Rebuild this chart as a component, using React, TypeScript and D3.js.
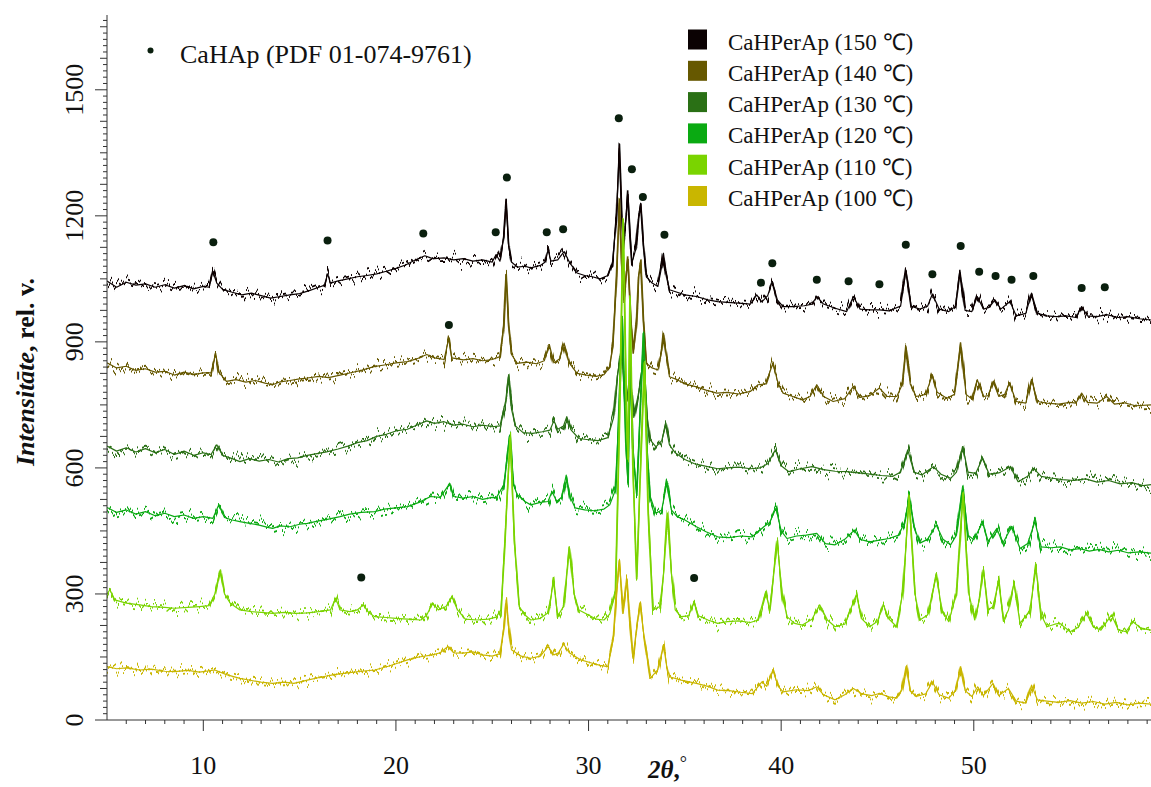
import React from "react";
import * as d3 from "d3";

const W = 1151;
const H = 787;

// 2θ (deg), intensity (rel. units)
const s150: number[][] = [[5.0,1045],[5.5,1030],[6.0,1042],[6.5,1035],[7.0,1038],[7.5,1030],[8.0,1036],[8.5,1028],[9.0,1034],[9.5,1026],[10.0,1032],[10.3,1030],[10.5,1067],[10.7,1040],[11.0,1025],[11.5,1018],[12.0,1012],[12.5,1016],[13.0,1010],[13.5,1004],[14.0,1008],[14.5,1012],[15.0,1015],[15.5,1022],[16.0,1030],[16.3,1035],[16.45,1062],[16.6,1040],[17.0,1045],[17.5,1050],[18.0,1055],[18.5,1058],[19.0,1062],[19.5,1068],[20.0,1075],[20.5,1083],[21.0,1095],[21.5,1105],[21.8,1100],[22.0,1098],[22.5,1100],[23.0,1095],[23.5,1098],[24.0,1092],[24.5,1095],[25.0,1090],[25.2,1108],[25.4,1092],[25.6,1150],[25.72,1232],[25.85,1130],[26.0,1090],[26.3,1078],[26.7,1080],[27.0,1076],[27.5,1082],[27.75,1090],[27.9,1119],[28.05,1092],[28.4,1095],[28.73,1115],[29.0,1090],[29.4,1064],[29.8,1058],[30.2,1055],[30.6,1050],[31.0,1058],[31.25,1090],[31.45,1200],[31.6,1361],[31.72,1200],[31.8,1127],[31.95,1200],[32.04,1260],[32.15,1160],[32.25,1088],[32.45,1120],[32.6,1200],[32.71,1230],[32.85,1130],[33.0,1055],[33.3,1040],[33.6,1032],[33.8,1080],[33.89,1111],[34.0,1070],[34.2,1024],[34.6,1018],[35.0,1012],[35.6,1008],[36.2,1000],[36.7,996],[37.2,994],[37.8,992],[38.4,990],[38.73,1012],[39.0,995],[39.3,1010],[39.54,1044],[39.8,1000],[40.1,984],[40.6,984],[41.2,986],[41.6,990],[41.85,1008],[42.2,990],[42.8,980],[43.4,972],[43.75,1008],[44.1,978],[44.6,976],[45.1,976],[45.6,974],[46.2,985],[46.48,1071],[46.75,985],[47.2,978],[47.6,985],[47.85,1014],[48.2,978],[48.7,972],[49.05,985],[49.28,1071],[49.55,975],[49.9,972],[50.18,1008],[50.5,978],[50.8,982],[51.1,1000],[51.4,978],[51.88,996],[52.2,962],[52.7,968],[53.0,1016],[53.3,968],[53.8,962],[54.3,960],[54.8,962],[55.3,958],[55.6,984],[55.9,962],[56.4,960],[56.9,965],[57.5,958],[58.0,960],[58.6,955],[59.2,952]];

const s140: number[][] = [[5.0,850],[5.5,838],[6.0,842],[6.5,832],[7.0,836],[7.5,828],[8.0,830],[8.5,821],[9.0,828],[9.5,822],[10.0,826],[10.4,826],[10.64,873],[10.8,828],[11.2,806],[11.7,810],[12.2,804],[12.7,808],[13.2,802],[13.6,798],[14.0,805],[14.5,808],[15.0,812],[15.4,814],[16.0,818],[16.5,815],[17.1,821],[17.6,826],[18.2,832],[18.86,841],[19.4,845],[20.0,850],[20.6,853],[21.1,860],[21.6,870],[22.0,862],[22.5,858],[22.75,909],[22.9,862],[23.5,857],[24.0,860],[24.5,855],[25.0,858],[25.4,865],[25.6,940],[25.72,1060],[25.85,940],[26.0,870],[26.3,849],[26.8,852],[27.3,848],[27.7,855],[27.97,893],[28.2,850],[28.5,860],[28.73,897],[29.0,850],[29.4,825],[29.9,821],[30.4,818],[30.8,822],[31.1,840],[31.26,889],[31.45,1050],[31.6,1230],[31.72,1080],[31.85,1000],[31.95,1060],[32.04,1103],[32.2,950],[32.33,873],[32.5,950],[32.6,1060],[32.71,1095],[32.85,950],[33.0,849],[33.3,838],[33.6,833],[33.8,880],[33.89,921],[34.0,880],[34.2,817],[34.6,810],[35.0,800],[35.6,793],[36.1,785],[36.66,778],[37.2,780],[37.8,776],[38.4,782],[38.8,798],[39.2,800],[39.57,849],[39.85,800],[40.1,778],[40.6,770],[41.1,762],[41.5,770],[41.85,798],[42.2,770],[42.7,758],[43.3,765],[43.75,794],[44.1,768],[44.6,772],[45.1,790],[45.5,770],[46.0,770],[46.3,800],[46.48,890],[46.7,800],[47.0,770],[47.5,775],[47.85,821],[48.1,780],[48.6,766],[49.0,775],[49.32,898],[49.6,775],[49.9,764],[50.18,810],[50.5,770],[50.75,772],[51.0,806],[51.3,770],[51.6,775],[51.85,802],[52.2,758],[52.7,754],[53.0,811],[53.3,758],[53.8,754],[54.4,752],[55.0,756],[55.3,754],[55.6,778],[55.9,756],[56.4,754],[56.9,770],[57.3,752],[57.8,755],[58.4,748],[59.2,750]];

const s130: number[][] = [[5.0,652],[5.5,640],[6.0,648],[6.5,638],[7.0,646],[7.5,636],[8.0,644],[8.5,632],[9.0,640],[9.5,630],[10.0,636],[10.4,632],[10.7,655],[11.0,630],[11.5,622],[11.9,615],[12.4,622],[12.9,616],[13.4,620],[13.9,614],[14.4,622],[14.9,624],[15.4,630],[15.9,634],[16.4,638],[17.0,645],[17.5,652],[18.0,660],[18.5,665],[19.0,675],[19.5,680],[20.0,688],[20.6,692],[21.1,702],[21.6,712],[22.0,706],[22.5,710],[23.0,702],[23.5,704],[24.0,698],[24.5,702],[25.0,698],[25.4,700],[25.7,760],[25.85,821],[26.0,740],[26.2,700],[26.6,684],[27.1,682],[27.6,686],[28.0,690],[28.2,712],[28.4,692],[28.7,700],[28.87,722],[29.1,690],[29.5,670],[30.0,667],[30.5,665],[31.0,672],[31.3,720],[31.5,820],[31.73,889],[31.9,750],[32.0,760],[32.15,817],[32.35,720],[32.6,780],[32.85,857],[33.05,720],[33.2,667],[33.5,650],[33.8,665],[34.0,702],[34.2,655],[34.5,636],[35.0,620],[35.5,610],[36.0,605],[36.7,598],[37.2,600],[37.8,602],[38.4,598],[38.9,600],[39.3,610],[39.7,643],[40.0,605],[40.4,591],[41.0,598],[41.6,603],[42.2,596],[42.8,592],[43.4,591],[44.0,588],[44.6,585],[45.2,582],[45.8,580],[46.2,590],[46.57,643],[46.9,590],[47.3,583],[47.9,603],[48.3,585],[48.8,575],[49.1,590],[49.42,651],[49.7,590],[50.1,587],[50.45,623],[50.8,585],[51.3,588],[51.9,603],[52.3,567],[52.8,580],[53.1,599],[53.5,580],[54.0,576],[54.6,572],[55.2,570],[55.8,574],[56.4,566],[57.0,570],[57.6,562],[58.2,565],[58.8,558],[59.2,560]];

const s120: number[][] = [[5.0,506],[5.5,494],[6.0,500],[6.5,490],[7.0,496],[7.5,486],[8.0,492],[8.5,484],[9.0,488],[9.5,480],[10.0,484],[10.5,480],[10.8,512],[11.1,482],[11.5,476],[11.9,472],[12.4,468],[12.9,464],[13.4,458],[13.6,456],[14.0,462],[14.5,460],[15.0,466],[15.4,468],[16.0,474],[16.5,478],[17.1,484],[17.6,490],[18.2,494],[18.9,496],[19.4,502],[20.0,505],[20.6,508],[21.2,518],[21.8,532],[22.3,530],[22.8,563],[23.0,532],[23.5,528],[24.0,532],[24.5,525],[25.0,530],[25.2,528],[25.6,560],[25.9,675],[26.1,560],[26.3,536],[26.7,520],[27.0,512],[27.5,518],[27.9,520],[28.1,544],[28.35,520],[28.6,530],[28.84,583],[29.05,530],[29.3,505],[29.8,500],[30.3,498],[30.8,502],[31.1,512],[31.4,548],[31.55,700],[31.75,960],[31.95,640],[32.05,560],[32.15,860],[32.3,640],[32.5,544],[32.65,700],[32.85,920],[33.05,640],[33.2,532],[33.5,492],[33.8,500],[34.06,563],[34.3,500],[34.6,484],[35.0,476],[35.6,460],[36.1,448],[36.7,436],[37.3,434],[37.9,438],[38.5,436],[39.1,460],[39.4,470],[39.73,504],[40.0,450],[40.3,432],[40.8,438],[41.3,440],[41.85,444],[42.3,420],[42.8,417],[43.3,430],[43.8,452],[44.1,430],[44.6,424],[45.1,428],[45.6,432],[46.1,440],[46.4,470],[46.64,528],[46.9,460],[47.2,421],[47.6,430],[48.05,464],[48.4,430],[48.8,417],[49.1,440],[49.42,556],[49.7,440],[50.0,429],[50.45,470],[50.75,425],[51.2,456],[51.5,420],[51.97,460],[52.4,408],[52.8,420],[53.17,472],[53.5,412],[54.0,410],[54.5,412],[55.0,405],[55.5,408],[56.0,402],[56.5,406],[57.0,400],[57.5,404],[58.0,398],[58.6,400],[59.2,397]];

const s110: number[][] = [[5.0,300],[5.15,310],[5.4,286],[6.0,278],[6.7,274],[7.3,270],[8.0,268],[8.5,266],[9.2,268],[9.8,270],[10.3,272],[10.6,300],[10.87,357],[11.1,300],[11.4,278],[11.9,262],[12.5,258],[13.0,256],[13.6,254],[14.2,256],[14.8,254],[15.4,255],[16.0,258],[16.6,262],[16.87,290],[17.1,262],[17.6,258],[18.0,262],[18.3,274],[18.6,255],[18.9,246],[19.5,244],[20.0,242],[20.6,240],[21.3,238],[21.6,250],[21.9,278],[22.2,262],[22.6,270],[22.9,294],[23.2,262],[23.6,240],[24.2,238],[24.8,240],[25.2,245],[25.45,262],[25.65,420],[25.93,670],[26.15,420],[26.4,270],[26.7,250],[27.0,238],[27.5,242],[27.9,255],[28.18,329],[28.4,248],[28.7,270],[29.0,413],[29.25,300],[29.5,262],[30.0,250],[30.4,240],[30.8,238],[31.1,252],[31.4,302],[31.6,700],[31.8,1190],[31.98,700],[32.05,620],[32.15,1010],[32.3,600],[32.5,341],[32.7,600],[32.9,850],[33.1,500],[33.35,262],[33.7,270],[33.9,350],[34.1,492],[34.3,350],[34.5,262],[34.8,246],[35.2,248],[35.48,282],[35.7,248],[36.2,238],[36.7,230],[37.2,234],[37.8,236],[38.4,232],[38.8,238],[39.2,306],[39.4,262],[39.8,421],[40.05,300],[40.3,246],[40.7,230],[41.1,226],[41.6,240],[42.0,274],[42.4,238],[42.8,222],[43.3,228],[43.9,298],[44.2,240],[44.6,222],[45.0,235],[45.3,275],[45.6,240],[46.0,222],[46.3,300],[46.64,520],[46.95,300],[47.2,238],[47.6,250],[48.05,343],[48.35,262],[48.7,234],[49.1,300],[49.44,540],[49.75,300],[50.05,238],[50.3,290],[50.5,357],[50.75,262],[51.0,270],[51.28,329],[51.55,238],[51.8,262],[52.09,325],[52.4,230],[52.9,260],[53.23,361],[53.5,250],[53.8,222],[54.2,228],[54.47,230],[55.0,210],[55.4,220],[55.85,254],[56.2,222],[56.6,214],[57.15,250],[57.5,215],[57.9,210],[58.26,234],[58.7,218],[59.2,214]];

const s100: number[][] = [[5.0,127],[5.5,122],[6.0,124],[6.7,119],[7.3,121],[8.0,116],[8.5,115],[9.2,118],[9.8,114],[10.6,119],[11.2,108],[11.9,99],[12.5,94],[13.0,90],[13.6,87],[14.2,90],[14.7,87],[15.4,95],[16.2,103],[16.8,108],[17.5,112],[18.2,116],[18.9,119],[19.6,128],[20.0,134],[20.6,143],[21.2,150],[21.9,155],[22.3,160],[22.7,175],[23.0,160],[23.5,159],[24.0,162],[24.5,155],[25.0,152],[25.4,158],[25.6,220],[25.72,286],[25.85,220],[26.0,167],[26.5,152],[27.0,147],[27.5,152],[27.9,175],[28.2,155],[28.45,160],[28.7,181],[29.0,160],[29.6,143],[30.2,135],[30.6,130],[31.0,127],[31.3,198],[31.45,300],[31.6,377],[31.8,254],[31.99,333],[32.15,230],[32.3,147],[32.5,220],[32.68,278],[32.85,210],[33.0,167],[33.2,99],[33.6,120],[33.89,179],[34.05,130],[34.2,103],[34.8,95],[35.6,87],[36.2,80],[36.7,71],[37.3,70],[37.9,66],[38.5,63],[39.0,91],[39.25,80],[39.57,119],[39.85,80],[40.1,67],[40.8,72],[41.4,70],[41.85,79],[42.2,60],[42.8,48],[43.3,60],[43.75,75],[44.2,62],[44.7,58],[45.1,63],[45.6,55],[46.0,52],[46.25,70],[46.48,127],[46.7,70],[47.0,56],[47.5,62],[47.85,91],[48.2,60],[48.7,52],[49.05,70],[49.32,127],[49.55,70],[49.9,56],[50.2,79],[50.5,58],[51.0,87],[51.3,58],[51.8,75],[52.2,45],[52.7,40],[53.0,83],[53.3,48],[53.8,45],[54.4,42],[55.0,46],[55.6,40],[56.2,44],[56.8,38],[57.4,42],[58.0,36],[58.6,40],[59.2,38]];

// CaHAp reference reflections (marker positions)
const markers: number[][] = [[10.52,1137],[16.45,1141],[18.2,339],[21.42,1158],[22.75,940],[25.18,1161],[25.76,1291],[27.83,1161],[28.68,1168],[31.57,1432],[32.25,1311],[32.82,1245],[33.94,1155],[35.48,338],[38.95,1041],[39.54,1087],[41.85,1048],[43.5,1044],[45.1,1037],[46.47,1131],[47.85,1061],[49.32,1128],[50.28,1067],[51.13,1057],[51.96,1048],[53.09,1057],[55.6,1028],[56.8,1030]];

const seriesNames = ["CaHPerAp (150 ℃)", "CaHPerAp (140 ℃)", "CaHPerAp (130 ℃)", "CaHPerAp (120 ℃)", "CaHPerAp (110 ℃)", "CaHPerAp (100 ℃)"];
const seriesColors = ["#0b0203", "#665800", "#2a7015", "#0aaa12", "#7ad400", "#c9b600"];
const seriesData = [s150, s140, s130, s120, s110, s100];

const xMajor = [10, 20, 30, 40, 50];
const yMajor = [0, 300, 600, 900, 1200, 1500];

const FONT = "'Liberation Serif', 'Times New Roman', serif";

export default function App() {
  const x = d3.scaleLinear().domain([5, 59.2]).range([107, 1151]);
  const y = d3.scaleLinear().domain([0, 1678]).range([720, 15]);
  const line = d3.line<number[]>().x((d) => x(d[0])).y((d) => y(d[1]));

  const xMinor = d3.range(6, 60, 1);
  const yMinor = d3.range(0, 1679, 15);

  return (
    <svg width={W} height={H} style={{ position: "absolute", left: 0, top: 0, background: "#fff" }} fontFamily={FONT}>
      <defs>
        <clipPath id="plot">
          <rect x={107} y={0} width={W - 107} height={721} />
        </clipPath>
        <filter id="jit" filterUnits="userSpaceOnUse" x={0} y={0} width={W} height={H}>
          <feTurbulence type="fractalNoise" baseFrequency="0.3 0.003" numOctaves={3} seed={7} result="n" />
          <feColorMatrix in="n" type="matrix" values="0 0 0 0 0.5  0 1 0 0 0  0 0 0 0 0  0 0 0 0 1" result="m" />
          <feDisplacementMap in="SourceGraphic" in2="m" scale={26} xChannelSelector="R" yChannelSelector="G" />
        </filter>
      </defs>

      {/* series: a solid trace plus a jittered copy for the counting-noise texture */}
      <g clipPath="url(#plot)">
        {seriesData.map((s, i) => (
          <g key={i}>
            <path d={line(s) || ""} fill="none" stroke={seriesColors[i]} strokeWidth={1.2} strokeLinejoin="round" />
            <path d={line(s) || ""} fill="none" stroke={seriesColors[i]} strokeWidth={1.8} strokeLinejoin="round" filter="url(#jit)" />
          </g>
        ))}
      </g>

      {/* markers */}
      {markers.map((m, i) => (
        <circle key={i} cx={x(m[0])} cy={y(m[1])} r={4} fill="#0a1f0e" />
      ))}

      {/* y axis */}
      <line x1={107} x2={107} y1={y(1678)} y2={720} stroke="#333" strokeWidth={1} />
      {yMinor.map((v) => {
        const len = v % 300 === 0 ? 12 : v % 75 === 0 ? 7 : 4;
        return <line key={v} x1={107 - len} x2={107} y1={y(v)} y2={y(v)} stroke="#333" strokeWidth={1} />;
      })}
      {yMajor.map((v) => (
        <text key={v} x={83} y={y(v)} transform={`rotate(-90 83 ${y(v)})`} textAnchor="middle" fontSize={26} fill="#111">
          {v}
        </text>
      ))}

      {/* x axis */}
      <line x1={107} x2={W} y1={720} y2={720} stroke="#333" strokeWidth={1} />
      {xMinor.map((v) => {
        const len = v % 10 === 0 ? 11 : 4;
        return <line key={v} x1={x(v)} x2={x(v)} y1={720} y2={720 + len} stroke="#333" strokeWidth={1} />;
      })}
      {xMajor.map((v) => (
        <text key={v} x={x(v)} y={774} textAnchor="middle" fontSize={26} fill="#111">
          {v}
        </text>
      ))}

      {/* axis titles */}
      <text x={648} y={778} fontSize={25} fontWeight="bold" fill="#111">
        <tspan fontStyle="italic">2θ</tspan>
        <tspan>,</tspan>
        <tspan dy={-9} fontSize={18} fontWeight="normal">°</tspan>
      </text>
      <text transform="translate(34,372) rotate(-90)" textAnchor="middle" fontSize={26} fontWeight="bold" fill="#111">
        <tspan fontStyle="italic">Intensitāte</tspan>
        <tspan>, rel. v.</tspan>
      </text>

      {/* marker legend */}
      <circle cx={150.5} cy={50.5} r={3} fill="#0a1f0e" />
      <text x={180} y={63} fontSize={26} fill="#111">CaHAp (PDF 01-074-9761)</text>

      {/* series legend */}
      {seriesNames.map((n, i) => {
        const top = 29.5 + i * 31.3;
        return (
          <g key={n}>
            <rect x={688} y={top} width={19} height={20} fill={seriesColors[i]} />
            <text x={728} y={top + 20} fontSize={23} fill="#111">{n}</text>
          </g>
        );
      })}
    </svg>
  );
}
